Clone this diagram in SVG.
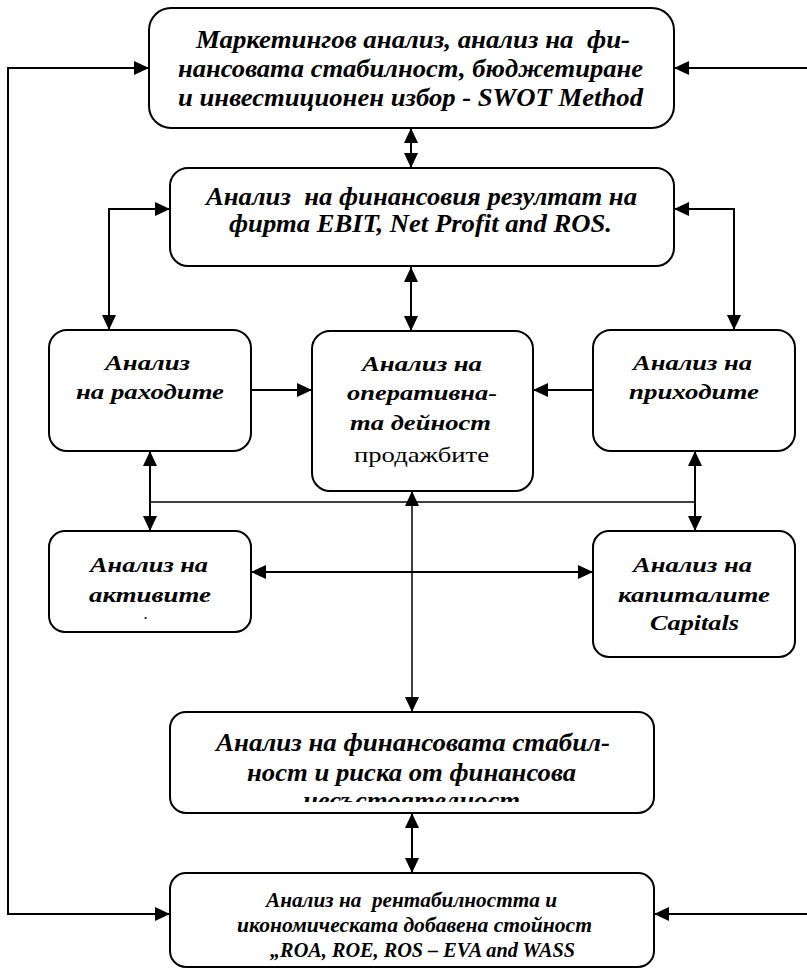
<svg xmlns="http://www.w3.org/2000/svg" width="807" height="971" viewBox="0 0 807 971">
<style>
.box{fill:#fff;stroke:#000;stroke-width:2}
.t{font-family:"Liberation Serif","Times New Roman",serif;font-weight:bold;font-style:italic;text-anchor:middle;fill:#000}
.big{font-size:25px}
.mid{font-size:22px}
.sm{font-size:21px}
.reg{font-family:"Liberation Serif","Times New Roman",serif;font-size:22px;text-anchor:middle;fill:#000}
.c{fill:none;stroke:#000;stroke-width:2}
.thin{fill:none;stroke:#000;stroke-width:1.5}
</style>
<defs>
<marker id="ah" viewBox="0 0 15 14" refX="15" refY="7" markerWidth="15" markerHeight="14" markerUnits="userSpaceOnUse" orient="auto-start-reverse">
<path d="M0,0 L15,7 L0,14 z" fill="#000"/>
</marker>
<clipPath id="finclip"><rect x="172" y="714" width="480" height="88"/></clipPath>
</defs>

<g id="connectors">
<path class="c" d="M170,914 H8 V68 H149" marker-start="url(#ah)" marker-end="url(#ah)"/>
<path class="c" d="M807,68 H674" marker-end="url(#ah)"/>
<path class="c" d="M807,914 H654" marker-end="url(#ah)"/>
<path class="c" d="M411,128 V168" marker-start="url(#ah)" marker-end="url(#ah)"/>
<path class="c" d="M170,209 H109 V330" marker-start="url(#ah)" marker-end="url(#ah)"/>
<path class="c" d="M674,209 H734 V330" marker-start="url(#ah)" marker-end="url(#ah)"/>
<path class="c" d="M411,267 V331" marker-start="url(#ah)" marker-end="url(#ah)"/>
<path class="c" d="M251,390 H312" marker-end="url(#ah)"/>
<path class="c" d="M593,390 H533" marker-end="url(#ah)"/>
<path class="c" d="M150,451 V531" marker-start="url(#ah)" marker-end="url(#ah)"/>
<path class="c" d="M695,451 V531" marker-start="url(#ah)" marker-end="url(#ah)"/>
<path class="thin" d="M150,502 H695"/>
<path class="thin" d="M412,491 V712" marker-start="url(#ah)" marker-end="url(#ah)"/>
<path class="c" d="M251,572 H593" marker-start="url(#ah)" marker-end="url(#ah)"/>
<path class="c" d="M412,813 V873" marker-start="url(#ah)" marker-end="url(#ah)"/>
</g>

<g id="n_marketing">
<rect class="box" x="149" y="8" width="525" height="120" rx="22"/>
<text class="t big" x="413" y="48" xml:space="preserve" textLength="434" lengthAdjust="spacingAndGlyphs">Маркетингов анализ, анализ на  фи-</text>
<text class="t big" x="410.5" y="77" textLength="465" lengthAdjust="spacingAndGlyphs">нансовата стабилност, бюджетиране</text>
<text class="t big" x="410.5" y="106" textLength="465" lengthAdjust="spacingAndGlyphs">и инвестиционен избор - SWOT Method</text>
</g>

<g id="n_result">
<rect class="box" x="170" y="168" width="504" height="98" rx="18"/>
<text class="t big" x="421.5" y="205" xml:space="preserve" textLength="431" lengthAdjust="spacingAndGlyphs">Анализ  на финансовия резултат на</text>
<text class="t big" x="420.5" y="232" textLength="383" lengthAdjust="spacingAndGlyphs">фирта EBIT, Net Profit and ROS.</text>
</g>

<g id="n_expenses">
<rect class="box" x="49" y="330" width="202" height="121" rx="18"/>
<text class="t mid" x="147.5" y="370" textLength="85" lengthAdjust="spacingAndGlyphs">Анализ</text>
<text class="t mid" x="150" y="399" textLength="148" lengthAdjust="spacingAndGlyphs">на раходите</text>
</g>

<g id="n_operations">
<rect class="box" x="312" y="331" width="221" height="160" rx="18"/>
<text class="t mid" x="422" y="371" textLength="120" lengthAdjust="spacingAndGlyphs">Анализ на</text>
<text class="t mid" x="422" y="400" textLength="150" lengthAdjust="spacingAndGlyphs">оперативна-</text>
<text class="t mid" x="420.5" y="430" textLength="141" lengthAdjust="spacingAndGlyphs">та дейност</text>
<text class="reg" x="421.5" y="462" textLength="135" lengthAdjust="spacingAndGlyphs">продажбите</text>
</g>

<g id="n_income">
<rect class="box" x="593" y="330" width="202" height="121" rx="18"/>
<text class="t mid" x="692.5" y="370" textLength="119" lengthAdjust="spacingAndGlyphs">Анализ на</text>
<text class="t mid" x="694" y="399" textLength="130" lengthAdjust="spacingAndGlyphs">приходите</text>
</g>

<g id="n_assets">
<rect class="box" x="49" y="531" width="202" height="101" rx="16"/>
<text class="t mid" x="149" y="572" textLength="118" lengthAdjust="spacingAndGlyphs">Анализ на</text>
<text class="t mid" x="150" y="602" textLength="122" lengthAdjust="spacingAndGlyphs">активите</text>
<text class="t" style="font-size:12px" x="146" y="619">.</text>
</g>

<g id="n_capitals">
<rect class="box" x="593" y="531" width="202" height="126" rx="16"/>
<text class="t mid" x="692.5" y="572" textLength="119" lengthAdjust="spacingAndGlyphs">Анализ на</text>
<text class="t mid" x="694" y="602" textLength="152" lengthAdjust="spacingAndGlyphs">капиталите</text>
<text class="t mid" x="694.5" y="630" textLength="89" lengthAdjust="spacingAndGlyphs">Capitals</text>
</g>

<g id="n_stability">
<rect class="box" x="170" y="712" width="484" height="101" rx="16"/>
<text class="t big" x="413" y="751" textLength="394" lengthAdjust="spacingAndGlyphs">Анализ на финансовата стабил-</text>
<text class="t big" x="411.5" y="781" textLength="329" lengthAdjust="spacingAndGlyphs">ност и риска от финансова</text>
<text class="t big" x="411.5" y="809" clip-path="url(#finclip)" textLength="217" lengthAdjust="spacingAndGlyphs">несъстоятелност</text>
</g>

<g id="n_profitability">
<rect class="box" x="170" y="873" width="484" height="94" rx="16"/>
<text class="t sm" x="411.5" y="907" xml:space="preserve" textLength="291" lengthAdjust="spacingAndGlyphs">Анализ на  рентабилността и</text>
<text class="t sm" x="414.5" y="932" textLength="355" lengthAdjust="spacingAndGlyphs">икономическата добавена стойност</text>
<text class="t sm" x="422.5" y="957" textLength="305" lengthAdjust="spacingAndGlyphs">„ROA, ROE, ROS – EVA and WASS</text>
</g>
</svg>
